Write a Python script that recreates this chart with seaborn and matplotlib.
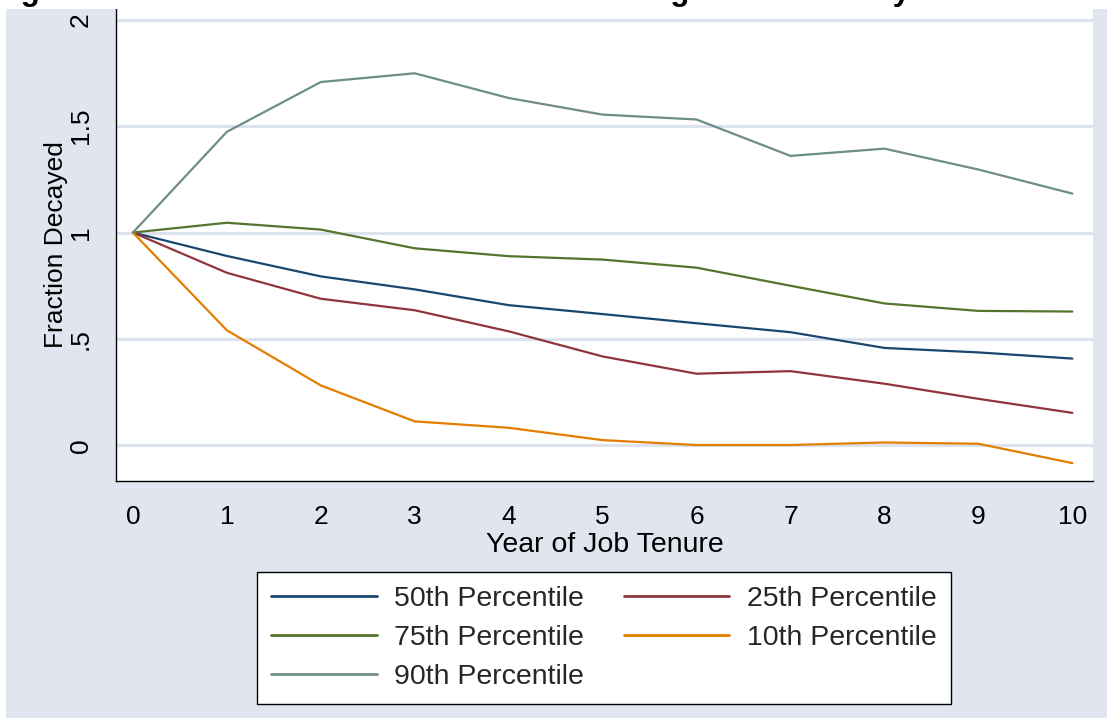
import pandas as pd
import matplotlib.pyplot as plt
import matplotlib.patches as mpatches
import seaborn as sns

# Data
years = [0, 1, 2, 3, 4, 5, 6, 7, 8, 9, 10]
p50 = [1.0, 0.890, 0.794, 0.733, 0.659, 0.617, 0.574, 0.532, 0.458, 0.437, 0.408]
p25 = [1.0, 0.811, 0.689, 0.635, 0.536, 0.418, 0.337, 0.349, 0.290, 0.219, 0.153]
p75 = [1.0, 1.046, 1.014, 0.926, 0.889, 0.873, 0.835, 0.750, 0.667, 0.632, 0.629]
p10 = [1.0, 0.541, 0.282, 0.113, 0.083, 0.025, 0.002, 0.002, 0.014, 0.008, -0.083]
p90 = [1.0, 1.473, 1.707, 1.748, 1.632, 1.554, 1.531, 1.360, 1.394, 1.296, 1.183]

series = {
    "50th Percentile": p50,
    "25th Percentile": p25,
    "75th Percentile": p75,
    "10th Percentile": p10,
    "90th Percentile": p90,
}
colors = {
    "50th Percentile": "#1A476F",
    "25th Percentile": "#90353B",
    "75th Percentile": "#55752F",
    "10th Percentile": "#E37E00",
    "90th Percentile": "#6E8E84",
}

ytick_vals = [0, 0.5, 1, 1.5, 2]
ytick_labels = ["0", ".5", "1", "1.5", "2"]

title = "Figure 4a: Percentiles of Fraction of Initial Wage Shock Decayed"

df = pd.concat(
    [pd.DataFrame({"year": years, "value": v, "series": k}) for k, v in series.items()],
    ignore_index=True,
)

sns.set_theme(style="white")
plt.rcParams["font.family"] = ["Liberation Sans", "DejaVu Sans"]

W, H = 1107, 718
bg = "#E0E5F0"
fig = plt.figure(figsize=(W / 100, H / 100), dpi=100, facecolor=bg)

# white strips at top and left edges
fig.patches.append(mpatches.Rectangle((0, 1 - 9 / H), 1, 9 / H, transform=fig.transFigure,
                                      facecolor="white", edgecolor="none", zorder=0))
fig.patches.append(mpatches.Rectangle((0, 0), 6 / W, 1, transform=fig.transFigure,
                                      facecolor="white", edgecolor="none", zorder=0))

ax = fig.add_axes([116 / W, 1 - 481 / H, (1093 - 116) / W, (481 - 9) / H])
ax.set_facecolor("white")

sns.lineplot(data=df, x="year", y="value", hue="series", palette=colors,
             linewidth=1.6, ax=ax, legend=False)

ax.set_xlim(-0.18, 10.22)
ax.set_ylim(-0.167, 2.05)
ax.set_xticks(years)
ax.set_yticks(ytick_vals)
ax.set_yticklabels(ytick_labels, rotation=90, va="center")
for y in ytick_vals:
    ax.axhline(y, color="#DCE2EE", lw=2.2, zorder=0)

ax.tick_params(axis="both", direction="out", length=8.5, width=1, color="black",
               labelsize=19, labelcolor="black")
ax.tick_params(axis="y", pad=8)
ax.tick_params(axis="x", pad=9)
for s in ["top", "right"]:
    ax.spines[s].set_visible(False)
for s in ["left", "bottom"]:
    ax.spines[s].set_color("black")
    ax.spines[s].set_linewidth(1)

ax.set_xlabel("Year of Job Tenure", fontsize=20.5, color="black", labelpad=2)
ax.set_ylabel("Fraction Decayed", fontsize=19, color="black", labelpad=1)

# legend: column-major order so rows read 50/25, 75/10, 90
order = ["50th Percentile", "75th Percentile", "90th Percentile",
         "25th Percentile", "10th Percentile"]
handles = [plt.Line2D([], [], color=colors[k], lw=2) for k in order]
leg = fig.legend(handles, order, loc="upper left",
                 bbox_to_anchor=(257 / W, 1 - 572 / H), ncol=2, fontsize=20.5,
                 frameon=True, fancybox=False, framealpha=1, edgecolor="black",
                 handlelength=3.7, handletextpad=0.62, columnspacing=1.4,
                 labelspacing=0.45, borderpad=0.5, borderaxespad=0)
leg.get_frame().set_linewidth(1)

# title, clipped at top of the image
t = fig.text(-7 / W, 1.0, title, fontsize=19, fontweight="bold",
             ha="left", va="baseline", color="black")
fig.canvas.draw()
w = t.get_window_extent().width
t.set_fontsize(19 * 954 / w)

plt.savefig("out.png", dpi=100)
plt.close()
